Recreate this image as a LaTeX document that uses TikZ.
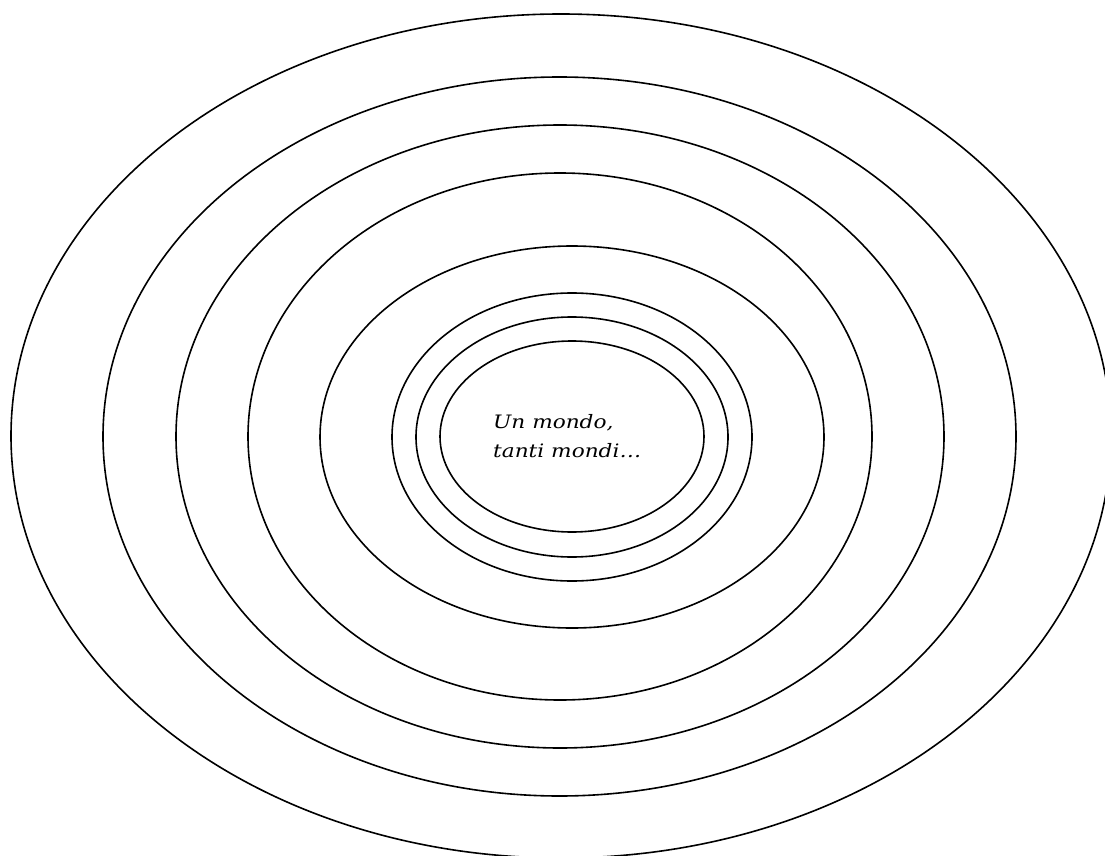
\documentclass[tikz,border=0pt]{standalone}
\usepackage{fontspec}
\setmainfont{DejaVu Serif}
\newfontfamily\lblfont{DejaVu Serif}[FakeStretch=1.17]
\begin{document}
\begin{tikzpicture}[x=1pt,y=-1pt,
  ring/.style={draw=black,line width=1.6pt},
  lbl/.style={font=\lblfont\fontsize{18.5}{22}\selectfont\itshape,inner sep=0pt,anchor=base west}]
\useasboundingbox (0,0) rectangle (1105,856);
\draw[ring] (561,436) ellipse [x radius=550pt,y radius=422pt];
\draw[ring] (559.5,436.5) ellipse [x radius=456.5pt,y radius=359.5pt];
\draw[ring] (560,436.5) ellipse [x radius=384pt,y radius=311.5pt];
\draw[ring] (560,436.5) ellipse [x radius=312pt,y radius=263.5pt];
\draw[ring] (572,437) ellipse [x radius=252pt,y radius=191pt];
\draw[ring] (572,437) ellipse [x radius=180pt,y radius=144pt];
\draw[ring] (572,437) ellipse [x radius=156pt,y radius=120pt];
\draw[ring] (572,436.5) ellipse [x radius=132pt,y radius=95.5pt];
\node[lbl] (t1) at (493,428) {Un mondo,};
\node[lbl] (t2) at (493,457) {tanti mondi…};
\end{tikzpicture}
\end{document}
